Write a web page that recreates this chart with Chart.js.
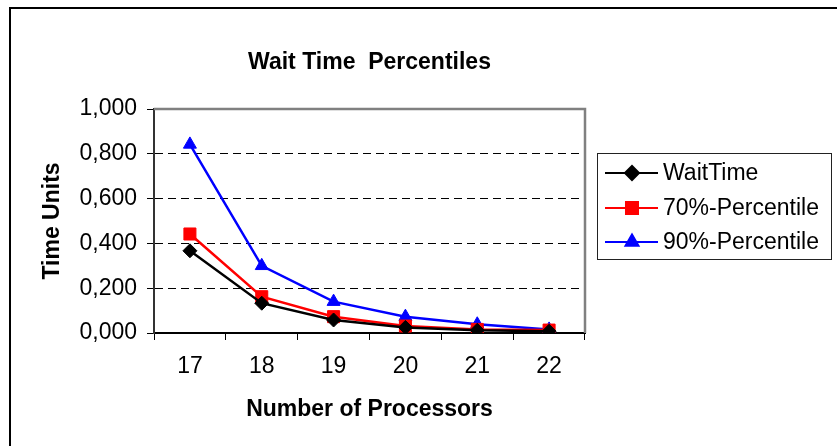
<!DOCTYPE html>
<html>
<head>
<meta charset="utf-8">
<script src="https://cdn.jsdelivr.net/npm/chart.js@4"></script>
<style>
  html, body { margin: 0; padding: 0; background: #fff; }
  #wrap { width: 837px; height: 446px; }
</style>
</head>
<body>
<div id="wrap"><canvas id="chart" width="837" height="446"></canvas></div>
<script>
// datos
const PROCESADORES = ['17', '18', '19', '20', '21', '22'];
const WAIT_TIME    = [0.367, 0.133, 0.058, 0.025, 0.012, 0.008];
const PERC_70      = [0.442, 0.162, 0.073, 0.031, 0.016, 0.013];
const PERC_90      = [0.842, 0.300, 0.140, 0.073, 0.039, 0.016];
const Y_TICKS      = [0, 0.2, 0.4, 0.6, 0.8, 1.0];

const FONT = 'Arial, "Liberation Sans", sans-serif';
const FS   = 23;

// numero con coma decimal: 0,200
function fmt(v) {
  return v.toFixed(3).replace('.', ',');
}

// borde exterior y borde gris del area de trazado
const framePlugin = {
  id: 'frame',
  beforeDraw(chart) {
    const ctx = chart.ctx;
    ctx.save();
    ctx.strokeStyle = '#000';
    ctx.lineWidth = 2;
    ctx.strokeRect(10, 8, 900, 500);
    ctx.restore();
  },
  afterDatasetsDraw(chart) {
    const { ctx, chartArea: a } = chart;
    ctx.save();
    ctx.strokeStyle = '#808080';
    ctx.lineWidth = 2.5;
    ctx.beginPath();
    ctx.moveTo(a.left, a.top);
    ctx.lineTo(a.right, a.top);
    ctx.lineTo(a.right, a.bottom);
    ctx.stroke();
    ctx.restore();
  }
};

// leyenda con recuadro a la derecha
const legendPlugin = {
  id: 'boxLegend',
  afterDraw(chart) {
    const ctx = chart.ctx;
    const x0 = 597, y0 = 153, w = 234, h = 106;
    ctx.save();
    ctx.strokeStyle = '#222';
    ctx.lineWidth = 1;
    ctx.strokeRect(x0 + 0.5, y0 + 0.5, w, h);
    const rows = [173, 208, 242];
    chart.data.datasets.forEach((ds, i) => {
      const y = rows[i];
      ctx.strokeStyle = ds.borderColor;
      ctx.lineWidth = 2;
      ctx.beginPath();
      ctx.moveTo(605, y);
      ctx.lineTo(658, y);
      ctx.stroke();
      Chart.helpers.drawPoint(ctx, {
        pointStyle: ds.pointStyle,
        radius: ds.pointRadius,
        borderWidth: 1
      }, 632, y);
      ctx.fillStyle = ds.borderColor;
      ctx.fill();
      ctx.fillStyle = '#000';
      ctx.font = FS + 'px ' + FONT;
      ctx.textBaseline = 'middle';
      ctx.textAlign = 'left';
      ctx.fillText(ds.label, 663, y + 1);
    });
    ctx.restore();
  }
};

new Chart(document.getElementById('chart'), {
  type: 'line',
  data: {
    labels: PROCESADORES,
    datasets: [
      {
        label: 'WaitTime',
        data: WAIT_TIME,
        borderColor: '#000000',
        backgroundColor: '#000000',
        pointStyle: 'rectRot',
        pointRadius: 7,
        pointBorderWidth: 1,
        borderWidth: 2.5,
        tension: 0
      },
      {
        label: '70%-Percentile',
        data: PERC_70,
        borderColor: '#FF0000',
        backgroundColor: '#FF0000',
        pointStyle: 'rect',
        pointRadius: 8.5,
        pointBorderWidth: 1,
        borderWidth: 2.5,
        tension: 0
      },
      {
        label: '90%-Percentile',
        data: PERC_90,
        borderColor: '#0000FF',
        backgroundColor: '#0000FF',
        pointStyle: 'triangle',
        pointRadius: 7.5,
        pointBorderWidth: 1,
        borderWidth: 2.5,
        tension: 0
      }
    ]
  },
  options: {
    responsive: false,
    animation: false,
    layout: { padding: { left: 0, top: 0, right: 252, bottom: 0 } },
    plugins: {
      legend: { display: false },
      tooltip: { enabled: false },
      title: {
        display: true,
        fullSize: false,
        text: 'Wait Time  Percentiles',
        color: '#000',
        font: { family: FONT, size: FS, weight: 'bold' },
        padding: { top: 49, bottom: 32.4 }
      }
    },
    scales: {
      x: {
        offset: true,
        afterFit(s) { s.height = 113; },
        grid: {
          offset: true,
          drawOnChartArea: false,
          tickLength: 7,
          tickColor: '#000',
          tickWidth: 1
        },
        border: { color: '#000', width: 2 },
        ticks: {
          color: '#000',
          padding: 13,
          maxRotation: 0,
          font: { family: FONT, size: FS }
        },
        title: {
          display: true,
          text: 'Number of Processors',
          color: '#000',
          font: { family: FONT, size: FS, weight: 'bold' },
          padding: { top: 0, bottom: 23 }
        }
      },
      y: {
        min: 0,
        max: 1,
        afterFit(s) { s.width = 154; },
        afterBuildTicks(s) { s.ticks = Y_TICKS.map(v => ({ value: v })); },
        grid: {
          color: ctx => (ctx.tick && ctx.tick.value > 0 && ctx.tick.value < 1) ? '#000' : 'rgba(0,0,0,0)',
          lineWidth: 1,
          tickLength: 7,
          tickColor: '#000',
          tickWidth: 1
        },
        border: { color: '#333', width: 2, dash: [8, 5] },
        ticks: {
          color: '#000',
          padding: 10,
          callback: v => fmt(v),
          font: { family: FONT, size: FS }
        },
        title: {
          display: true,
          text: 'Time Units',
          color: '#000',
          font: { family: FONT, size: FS, weight: 'bold' },
          padding: { top: 39, bottom: 0 }
        }
      }
    }
  },
  plugins: [framePlugin, legendPlugin]
});
</script>
</body>
</html>
